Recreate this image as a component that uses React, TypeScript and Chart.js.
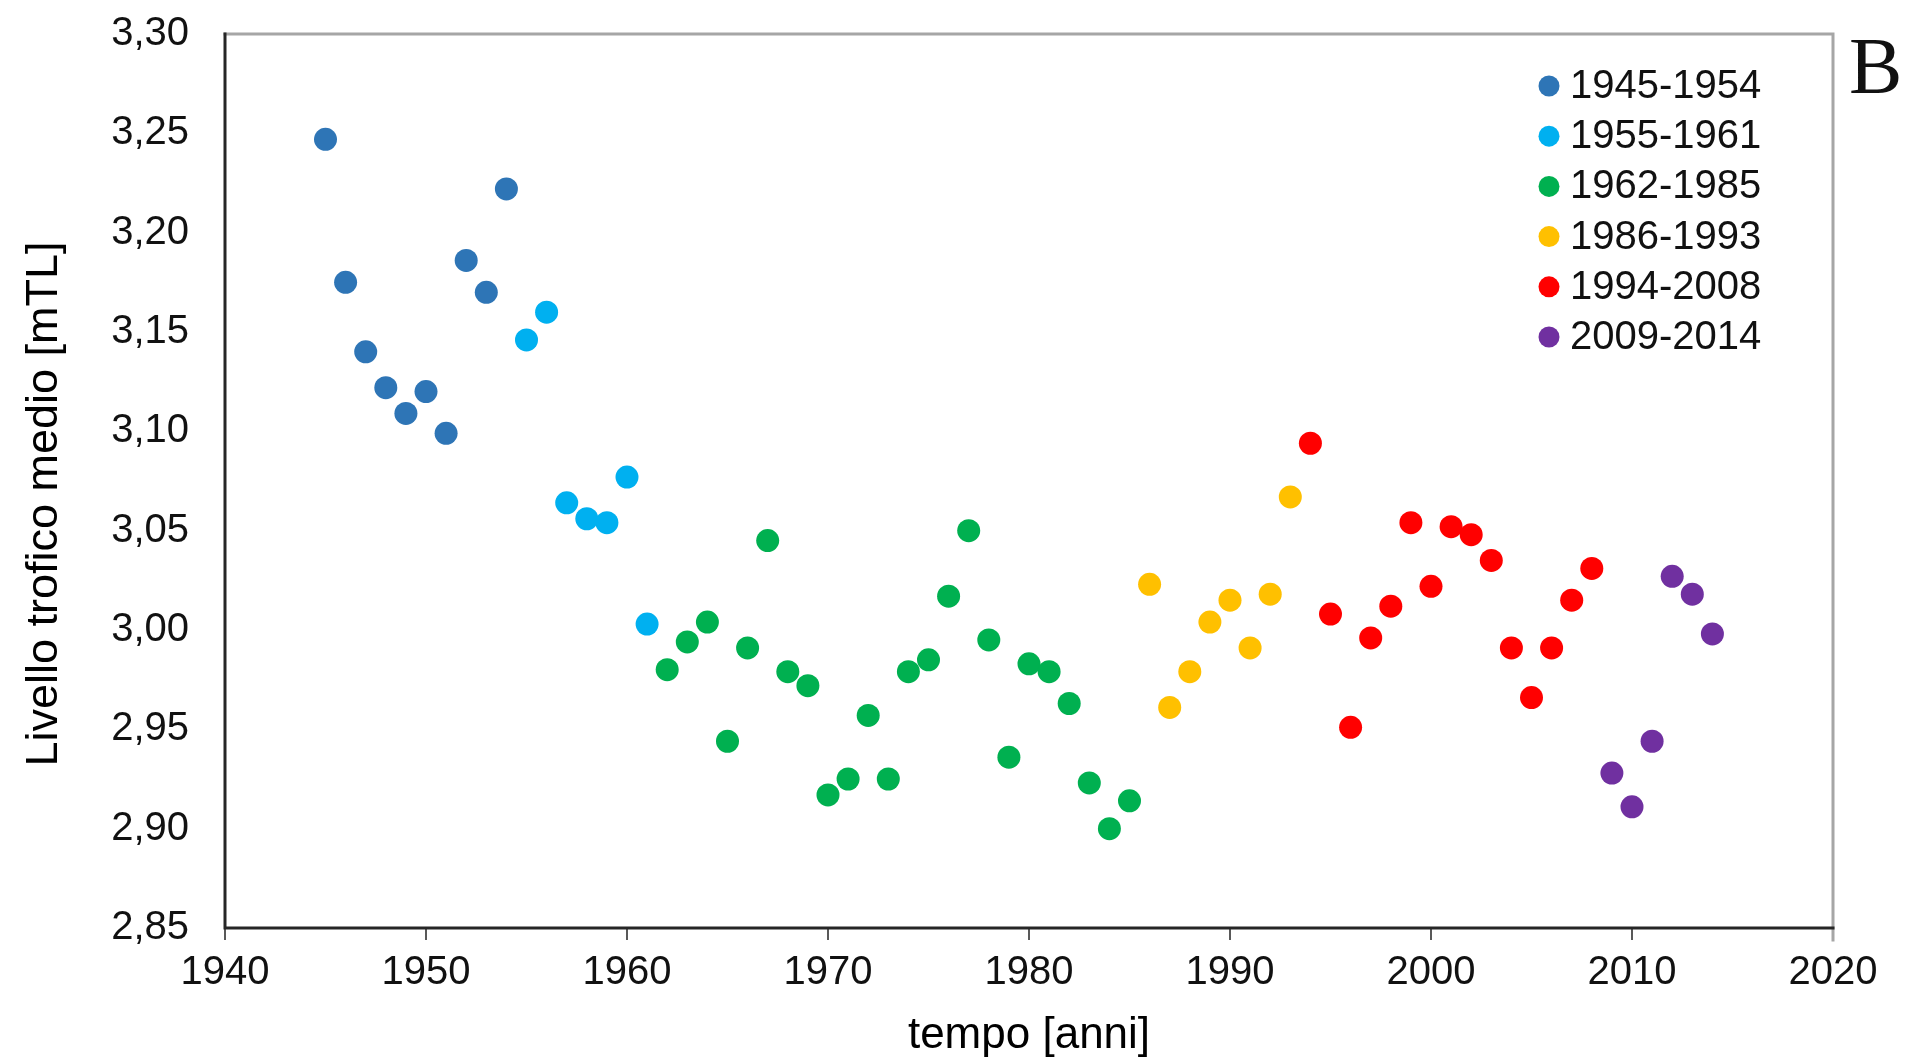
import React, { useEffect, useRef } from "react";
import { Chart, registerables } from "chart.js";

Chart.register(...registerables);

// ---- Data ----
const SERIES_LABELS = ["1945-1954", "1955-1961", "1962-1985", "1986-1993", "1994-2008", "2009-2014"];
const SERIES_COLORS = ["#2E75B6", "#00B0F0", "#00B050", "#FFC000", "#FF0000", "#7030A0"];

const YEARS_1 = [1945, 1946, 1947, 1948, 1949, 1950, 1951, 1952, 1953, 1954];
const MTL_1 = [3.247, 3.175, 3.140, 3.122, 3.109, 3.120, 3.099, 3.186, 3.170, 3.222];

const YEARS_2 = [1955, 1956, 1957, 1958, 1959, 1960, 1961];
const MTL_2 = [3.146, 3.160, 3.064, 3.056, 3.054, 3.077, 3.003];

const YEARS_3 = [1962, 1963, 1964, 1965, 1966, 1967, 1968, 1969, 1970, 1971, 1972, 1973, 1974, 1975, 1976, 1977, 1978, 1979, 1980, 1981, 1982, 1983, 1984, 1985];
const MTL_3 = [2.980, 2.994, 3.004, 2.944, 2.991, 3.045, 2.979, 2.972, 2.917, 2.925, 2.957, 2.925, 2.979, 2.985, 3.017, 3.050, 2.995, 2.936, 2.983, 2.979, 2.963, 2.923, 2.900, 2.914];

const YEARS_4 = [1986, 1987, 1988, 1989, 1990, 1991, 1992, 1993];
const MTL_4 = [3.023, 2.961, 2.979, 3.004, 3.015, 2.991, 3.018, 3.067];

const YEARS_5 = [1994, 1995, 1996, 1997, 1998, 1999, 2000, 2001, 2002, 2003, 2004, 2005, 2006, 2007, 2008];
const MTL_5 = [3.094, 3.008, 2.951, 2.996, 3.012, 3.054, 3.022, 3.052, 3.048, 3.035, 2.991, 2.966, 2.991, 3.015, 3.031];

const YEARS_6 = [2009, 2010, 2011, 2012, 2013, 2014];
const MTL_6 = [2.928, 2.911, 2.944, 3.027, 3.018, 2.998];

const X_TICK_LABELS = ["1940", "1950", "1960", "1970", "1980", "1990", "2000", "2010", "2020"];
const Y_TICK_LABELS = ["2,85", "2,90", "2,95", "3,00", "3,05", "3,10", "3,15", "3,20", "3,25", "3,30"];

const X_TITLE = "tempo [anni]";
const Y_TITLE = "Livello trofico medio [mTL]";
const PANEL_LABEL = "B";

const ALL_YEARS = [YEARS_1, YEARS_2, YEARS_3, YEARS_4, YEARS_5, YEARS_6];
const ALL_MTL = [MTL_1, MTL_2, MTL_3, MTL_4, MTL_5, MTL_6];

const FONT = "'Liberation Sans', Arial, sans-serif";

const framePlugin = {
  id: "frame",
  beforeDatasetsDraw(chart: any) {
    const { ctx, chartArea } = chart;
    const { left, right, top, bottom } = chartArea;
    ctx.save();
    ctx.lineCap = "square";
    ctx.strokeStyle = "#A6A6A6";
    ctx.lineWidth = 3;
    ctx.beginPath();
    ctx.moveTo(left, top);
    ctx.lineTo(right, top);
    ctx.lineTo(right, bottom + 12);
    ctx.stroke();
    ctx.strokeStyle = "#262626";
    ctx.lineWidth = 3;
    ctx.beginPath();
    ctx.moveTo(left, top);
    ctx.lineTo(left, bottom);
    ctx.lineTo(right, bottom);
    ctx.stroke();
    ctx.restore();
  },
};

const legendPlugin = {
  id: "customLegend",
  afterDraw(chart: any) {
    const { ctx, chartArea } = chart;
    ctx.save();
    chart.data.datasets.forEach((ds: any, i: number) => {
      const y = 86 + i * 50.2;
      ctx.fillStyle = ds.backgroundColor;
      ctx.beginPath();
      ctx.arc(1549, y, 10.5, 0, Math.PI * 2);
      ctx.fill();
      ctx.fillStyle = "#111";
      ctx.font = `40px ${FONT}`;
      ctx.textAlign = "left";
      ctx.textBaseline = "middle";
      ctx.fillText(ds.label, 1570, y + 1);
    });
    // Y axis title
    ctx.save();
    ctx.translate(45, (chartArea.top + chartArea.bottom) / 2 + 23);
    ctx.rotate(-Math.PI / 2);
    ctx.fillStyle = "#000";
    ctx.font = `45px ${FONT}`;
    ctx.textAlign = "center";
    ctx.textBaseline = "middle";
    ctx.fillText(Y_TITLE, 0, 0);
    ctx.restore();
    // panel label
    ctx.fillStyle = "#111";
    ctx.font = `80px 'Liberation Serif', 'Times New Roman', serif`;
    ctx.textAlign = "left";
    ctx.textBaseline = "alphabetic";
    ctx.fillText(PANEL_LABEL, 1849, 93);
    ctx.restore();
  },
};

export default function App() {
  const ref = useRef<HTMLCanvasElement | null>(null);

  useEffect(() => {
    document.body.style.margin = "0";
    if (!ref.current) return;
    const datasets = SERIES_LABELS.map((label, i) => ({
      label,
      data: ALL_YEARS[i].map((x, j) => ({ x, y: ALL_MTL[i][j] })),
      backgroundColor: SERIES_COLORS[i],
      borderWidth: 0,
      pointRadius: 11.5,
      pointHoverRadius: 11.5,
    }));
    const chart = new Chart(ref.current, {
      type: "scatter",
      data: { datasets },
      options: {
        animation: false,
        responsive: false,
        maintainAspectRatio: false,
        layout: { padding: { left: 0, top: 34, right: 72, bottom: 0 } },
        plugins: { legend: { display: false }, tooltip: { enabled: false } },
        scales: {
          x: {
            type: "linear",
            min: 1940,
            max: 2020,
            afterFit(scale: any) {
              scale.height = 135;
              scale.paddingLeft = 0;
              scale.paddingRight = 0;
            },
            afterBuildTicks(scale: any) {
              scale.ticks = X_TICK_LABELS.map((t) => ({ value: Number(t) }));
            },
            ticks: {
              callback: (_v: any, i: number) => X_TICK_LABELS[i],
              font: { family: FONT, size: 40 },
              color: "#111",
              padding: 9,
              maxRotation: 0,
              autoSkip: false,
            },
            grid: {
              display: true,
              drawOnChartArea: false,
              drawTicks: true,
              tickLength: 12,
              color: "#595959",
              lineWidth: 2,
            },
            border: { display: false },
            title: {
              display: true,
              text: X_TITLE,
              font: { family: FONT, size: 44 },
              color: "#000",
              padding: { top: 0, bottom: 1 },
            },
          },
          y: {
            type: "linear",
            min: 2.85,
            max: 3.3,
            afterFit(scale: any) {
              scale.width = 225;
              scale.paddingTop = 0;
              scale.paddingBottom = 0;
            },
            afterBuildTicks(scale: any) {
              scale.ticks = Y_TICK_LABELS.map((t) => ({ value: Number(t.replace(",", ".")) }));
            },
            ticks: {
              callback: (_v: any, i: number) => Y_TICK_LABELS[i],
              font: { family: FONT, size: 40 },
              color: "#111",
              padding: 36,
              autoSkip: false,
            },
            grid: { display: false, drawTicks: false },
            border: { display: false },
            title: { display: false },
          },
        },
      },
      plugins: [framePlugin, legendPlugin],
    });
    return () => chart.destroy();
  }, []);

  return (
    <div style={{ position: "fixed", left: 0, top: 0, width: 1905, height: 1063, background: "#fff" }}>
      <canvas ref={ref} width={1905} height={1063} style={{ width: 1905, height: 1063, display: "block" }} />
    </div>
  );
}
